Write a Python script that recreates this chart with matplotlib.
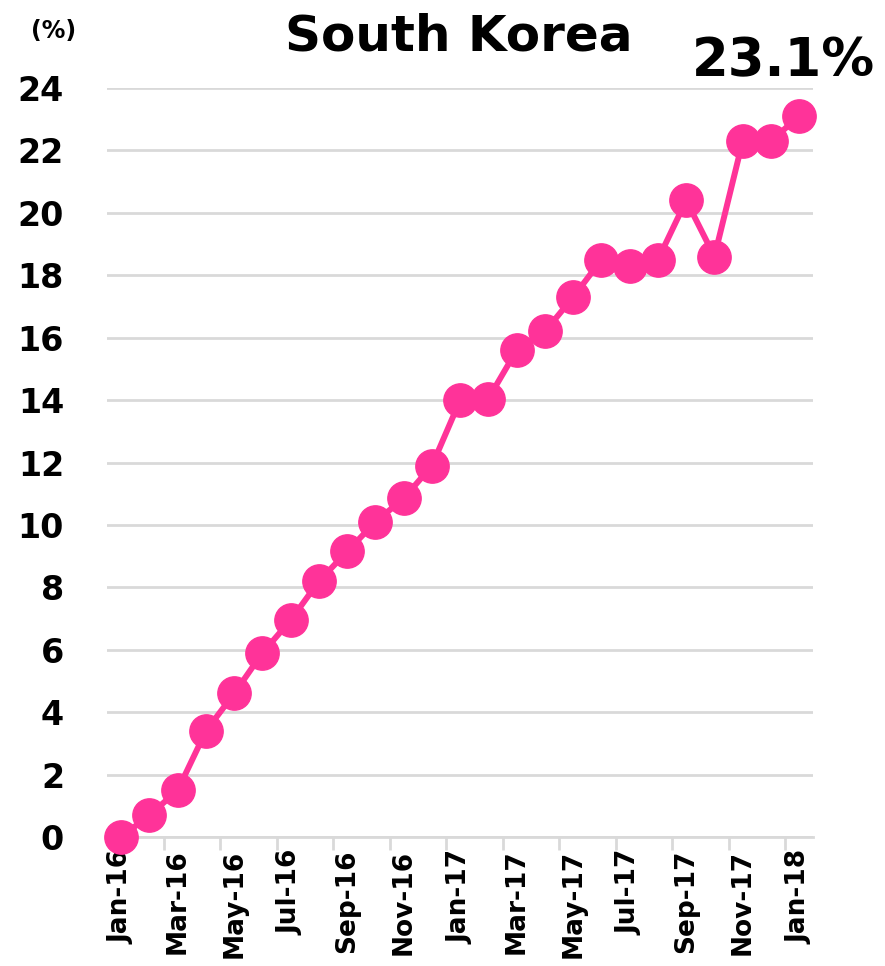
import numpy as np
import matplotlib.pyplot as plt

months = ["Jan-16", "Feb-16", "Mar-16", "Apr-16", "May-16", "Jun-16", "Jul-16", "Aug-16",
          "Sep-16", "Oct-16", "Nov-16", "Dec-16", "Jan-17", "Feb-17", "Mar-17", "Apr-17",
          "May-17", "Jun-17", "Jul-17", "Aug-17", "Sep-17", "Oct-17", "Nov-17", "Dec-17",
          "Jan-18"]
share = [0.0, 0.7, 1.5, 3.4, 4.6, 5.9, 6.95, 8.2, 9.15, 10.1, 10.85, 11.9, 14.0, 14.05,
         15.6, 16.2, 17.3, 18.5, 18.3, 18.5, 20.4, 18.6, 22.3, 22.3, 23.1]
yticks = list(range(0, 25, 2))

pink = "#ff3399"
grid_col = "#d9d9d9"

fig = plt.figure(figsize=(8.85, 9.66), dpi=100)
ax = fig.add_axes([0.121, 0.1335, 0.798, 0.7754])

x = np.arange(len(months))
ax.plot(x, share, color=pink, lw=4.3, marker="o", ms=24, zorder=3, clip_on=False)

ax.set_xlim(-0.5, len(months) - 0.5)
ax.set_ylim(0, 24)
ax.set_yticks(yticks)
ax.set_yticklabels([str(v) for v in yticks], fontsize=24, fontweight="bold")
ax.yaxis.grid(True, color=grid_col, lw=2)
ax.set_axisbelow(True)

# labels on every other month, ticks on category boundaries
ax.set_xticks(x[::2])
ax.set_xticklabels(months[::2], rotation=90, fontsize=19, fontweight="bold")
ax.set_xticks(np.arange(1.5, len(months), 2), minor=True)
ax.tick_params(axis="x", which="major", length=0, pad=9)
ax.tick_params(axis="x", which="minor", length=9, width=2, color=grid_col)
ax.tick_params(axis="y", length=0, pad=31)

for s in ["top", "right", "left"]:
    ax.spines[s].set_visible(False)
ax.spines["bottom"].set_color(grid_col)
ax.spines["bottom"].set_linewidth(2)

fig.text(0.518, 0.962, "South Korea", fontsize=36, fontweight="bold", ha="center", va="center")
fig.text(0.885, 0.937, "23.1%", fontsize=38, fontweight="bold", ha="center", va="center")
fig.text(0.061, 0.968, "(%)", fontsize=17, fontweight="bold", ha="center", va="center")

fig.savefig("out.png", dpi=100)
